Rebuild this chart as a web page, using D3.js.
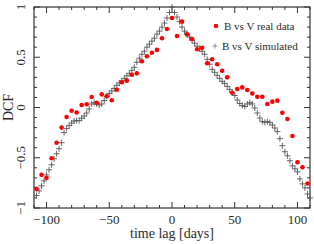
<!DOCTYPE html>
<html><head><meta charset="utf-8">
<script src="https://cdn.jsdelivr.net/npm/d3@7"></script>
<style>body{margin:0;background:#fff}svg{display:block}text{font-family:"Liberation Serif","Times New Roman",serif;fill:#2a2a2a}</style>
</head><body>
<script>
const realLags = [-108,-104,-100,-96,-92,-88,-84,-80,-76,-72,-68,-64,-60,-56,-52,-48,-44,-40,-36,-32,-28,-24,-20,-16,-12,-8,-4,0,4,8,12,16,20,24,28,32,36,40,44,48,52,56,60,64,68,72,76,80,84,88,92,96,100,104,108];
const realDCF = [-0.81,-0.67,-0.70,-0.505,-0.35,-0.20,-0.095,-0.032,-0.05,0.025,0.032,0.104,0.048,0.131,0.112,0.072,0.177,0.251,0.267,0.326,0.34,0.46,0.51,0.545,0.573,0.689,0.781,0.891,0.711,0.854,0.728,0.682,0.58,0.595,0.44,0.48,0.43,0.365,0.30,0.147,0.184,0.2,0.174,0.14,0.107,0.107,0.035,0.058,0.068,-0.052,-0.114,-0.284,-0.545,-0.594,-0.756];
const simLags = d3.range(-108, 111, 2);
const simDCF = [-0.875,-0.83,-0.78,-0.73,-0.67,-0.62,-0.57,-0.51,-0.46,-0.41,-0.35,-0.25,-0.21,-0.18,-0.155,-0.135,-0.13,-0.13,-0.107,-0.085,-0.055,-0.015,0.035,0.05,0.035,0.025,0.035,0.07,0.11,0.14,0.165,0.19,0.22,0.245,0.265,0.29,0.315,0.34,0.37,0.40,0.45,0.49,0.53,0.56,0.60,0.63,0.66,0.69,0.73,0.76,0.80,0.84,0.89,0.945,1.0,0.945,0.90,0.855,0.80,0.76,0.73,0.70,0.67,0.64,0.61,0.585,0.56,0.53,0.48,0.43,0.38,0.35,0.32,0.29,0.26,0.24,0.21,0.18,0.15,0.12,0.075,0.04,0.02,0.01,0.035,0.048,0.035,-0.005,-0.055,-0.105,-0.14,-0.147,-0.141,-0.15,-0.174,-0.204,-0.24,-0.31,-0.38,-0.44,-0.48,-0.53,-0.58,-0.61,-0.64,-0.71,-0.76,-0.80,-0.86,-0.90];
const xTicks = [-100,-50,0,50,100];
const yTicks = [-1,-0.5,0,0.5,1];
const legendLabels = ["B vs V real data","B vs V simulated"];

const W=314,H=244;
const m={l:34,r:4,t:7,b:36};
const svg=d3.select("body").append("svg").attr("width",W).attr("height",H);
const x=d3.scaleLinear().domain([-110,110]).range([m.l,W-m.r]);
const y=d3.scaleLinear().domain([-1,1]).range([H-m.b,m.t]);
const x0=m.l,x1=W-m.r,y0=H-m.b,y1=m.t;
const axc="#333";
const g=svg.append("g");
const xMinor=d3.range(-110,111,10), yMinor=d3.range(-10,11,1).map(d=>d/10);
function isMajorX(v){return Math.abs(v%50)<1e-6;}
function isMajorY(v){return Math.abs((v*10)%5)<1e-6;}
xMinor.forEach(v=>{const L=isMajorX(v)?6:3;
  g.append("line").attr("x1",x(v)).attr("x2",x(v)).attr("y1",y0).attr("y2",y0-L).attr("stroke",axc);
  g.append("line").attr("x1",x(v)).attr("x2",x(v)).attr("y1",y1).attr("y2",y1+L).attr("stroke",axc);});
yMinor.forEach(v=>{const L=isMajorY(v)?6:3;
  g.append("line").attr("y1",y(v)).attr("y2",y(v)).attr("x1",x0).attr("x2",x0+L).attr("stroke",axc);
  g.append("line").attr("y1",y(v)).attr("y2",y(v)).attr("x1",x1).attr("x2",x1-L).attr("stroke",axc);});
g.append("rect").attr("x",x0).attr("y",y1).attr("width",x1-x0).attr("height",y0-y1).attr("fill","none").attr("stroke",axc).attr("stroke-width",1.2);
const fmt=v=>(v<0?"\u2212":"")+Math.abs(v);
xTicks.forEach(v=>g.append("text").attr("x",x(v)).attr("y",y0+16).attr("text-anchor","middle").attr("font-size",13).text(fmt(v)));
yTicks.forEach(v=>g.append("text").attr("transform",`translate(${x0-9},${y(v)}) rotate(-90)`).attr("text-anchor","middle").attr("font-size",13).text(fmt(v)));
svg.append("text").attr("x",(x0+x1)/2).attr("y",H-6).attr("text-anchor","middle").attr("font-size",14).text("time lag [days]");
svg.append("text").attr("transform",`translate(13,${y(0)}) rotate(-90)`).attr("text-anchor","middle").attr("font-size",14).text("DCF");
const cs=3;
const sim=svg.append("g").attr("stroke","#555").attr("stroke-width",0.9);
simLags.forEach((l,i)=>{const cx=x(l),cy=y(simDCF[i]);
  sim.append("path").attr("d",`M${cx-cs},${cy}H${cx+cs}M${cx},${cy-cs}V${cy+cs}`);});
svg.append("g").selectAll("circle").data(realLags).join("circle")
  .attr("cx",d=>x(d)).attr("cy",(d,i)=>y(realDCF[i])).attr("r",2.3).attr("fill","#f00");
const lg=svg.append("g");
lg.append("circle").attr("cx",216).attr("cy",26).attr("r",2.3).attr("fill","#f00");
lg.append("path").attr("d","M212.5,46H217.5M215,43.5V48.5").attr("stroke","#777").attr("stroke-width",0.8);
lg.append("text").attr("x",224).attr("y",30).attr("font-size",11).text(legendLabels[0]);
lg.append("text").attr("x",222).attr("y",50).attr("font-size",11).text(legendLabels[1]);
</script>
</body></html>
